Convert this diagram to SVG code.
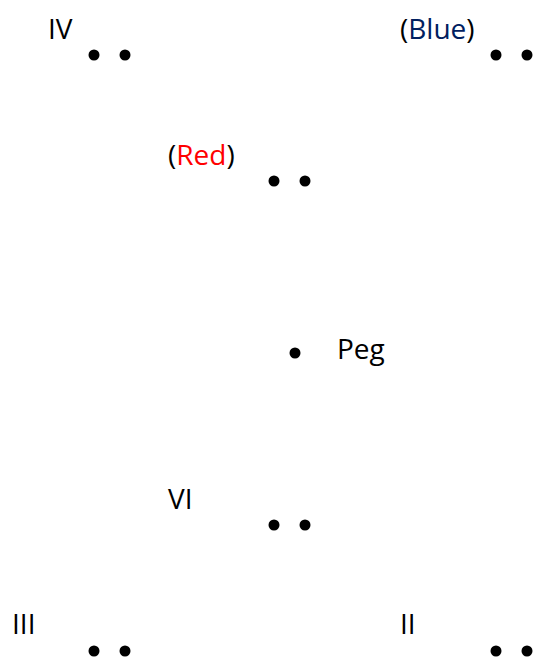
<svg xmlns="http://www.w3.org/2000/svg" width="535" height="657" viewBox="0 0 535 657">
<style>
text{font-family:"Open Sans","Noto Sans",sans-serif;font-size:28px;fill:#000}
.dot{fill:#000}
.red{fill:#FF0000}
.blue{fill:#002060}
</style>
<rect width="535" height="657" fill="#fff"/>
<g id="IV"><text x="48" y="39">IV</text><circle class="dot" cx="94" cy="55" r="5.5"/><circle class="dot" cx="125" cy="55" r="5.5"/></g>
<g id="Blue"><text x="400" y="39">(<tspan class="blue">Blue</tspan>)</text><circle class="dot" cx="496" cy="55" r="5.5"/><circle class="dot" cx="527" cy="55" r="5.5"/></g>
<g id="Red"><text x="168" y="165">(<tspan class="red">Red</tspan>)</text><circle class="dot" cx="274" cy="181" r="5.5"/><circle class="dot" cx="305" cy="181" r="5.5"/></g>
<g id="Peg"><text x="337" y="359">Peg</text><circle class="dot" cx="295" cy="353" r="5.5"/></g>
<g id="VI"><text x="168" y="509">VI</text><circle class="dot" cx="274" cy="525" r="5.5"/><circle class="dot" cx="305" cy="525" r="5.5"/></g>
<g id="III"><text x="12" y="634">III</text><circle class="dot" cx="94" cy="651" r="5.5"/><circle class="dot" cx="125" cy="651" r="5.5"/></g>
<g id="II"><text x="400" y="634">II</text><circle class="dot" cx="496" cy="651" r="5.5"/><circle class="dot" cx="527" cy="651" r="5.5"/></g>
<g id="connectors"/>
</svg>
